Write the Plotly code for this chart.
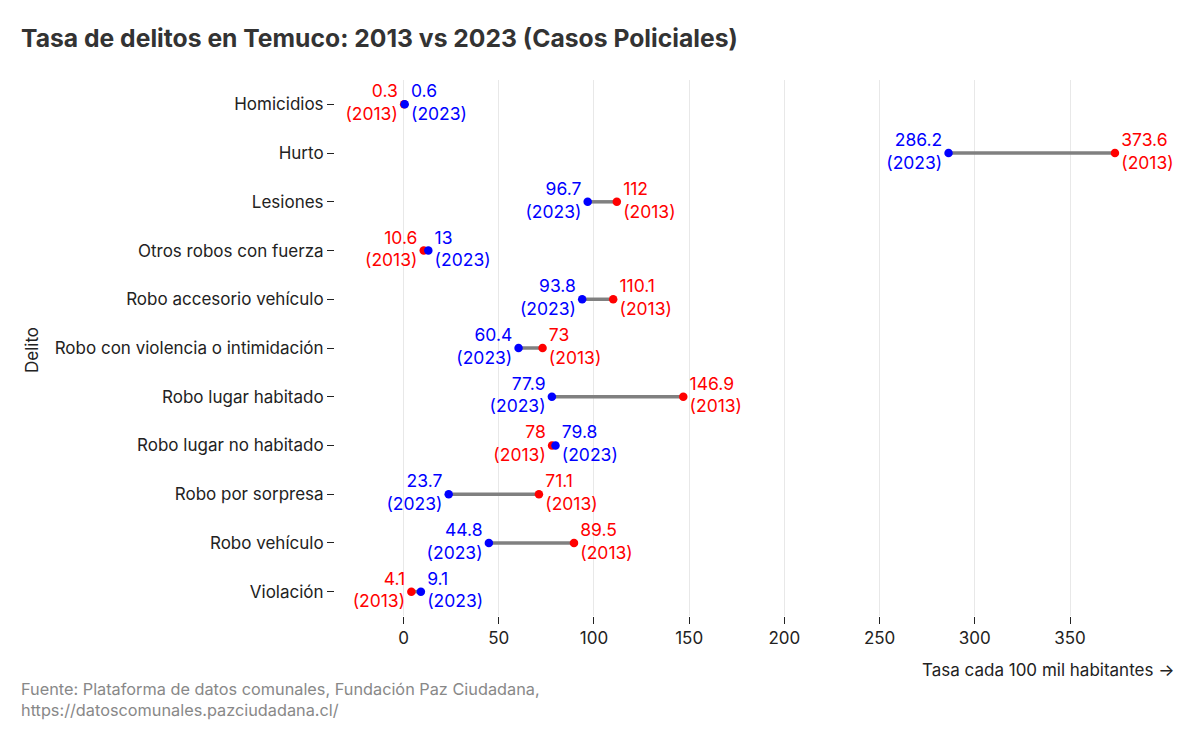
import plotly.graph_objects as go

# ===== DATA =====
delitos = [
    "Homicidios", "Hurto", "Lesiones", "Otros robos con fuerza",
    "Robo accesorio vehículo", "Robo con violencia o intimidación",
    "Robo lugar habitado", "Robo lugar no habitado", "Robo por sorpresa",
    "Robo vehículo", "Violación",
]
tasa_2013 = [0.3, 373.6, 112, 10.6, 110.1, 73, 146.9, 78, 71.1, 89.5, 4.1]
tasa_2023 = [0.6, 286.2, 96.7, 13, 93.8, 60.4, 77.9, 79.8, 23.7, 44.8, 9.1]
x_ticks = [0, 50, 100, 150, 200, 250, 300, 350]

RED = "#ff0000"
BLUE = "#0000ff"
FONT = "Inter, Roboto, sans-serif"


def fmt(v):
    return ("%g" % v)


fig = go.Figure()

# connecting segments
for d, a, b in zip(delitos, tasa_2013, tasa_2023):
    fig.add_trace(go.Scatter(
        x=[a, b], y=[d, d], mode="lines",
        line=dict(color="#808080", width=3.5),
        hoverinfo="skip", showlegend=False,
    ))

# text position: the lower value goes to the left, the higher to the right
pos_2013 = ["middle left" if a < b else "middle right" for a, b in zip(tasa_2013, tasa_2023)]
pos_2023 = ["middle right" if a < b else "middle left" for a, b in zip(tasa_2013, tasa_2023)]

fig.add_trace(go.Scatter(
    x=tasa_2013, y=delitos, mode="markers+text",
    marker=dict(color=RED, size=8.5),
    text=[fmt(v) + "<br>(2013)" for v in tasa_2013],
    textposition=pos_2013,
    textfont=dict(color=RED, size=17.5, family=FONT),
    cliponaxis=False, name="2013", showlegend=False,
))
fig.add_trace(go.Scatter(
    x=tasa_2023, y=delitos, mode="markers+text",
    marker=dict(color=BLUE, size=8.5),
    text=[fmt(v) + "<br>(2023)" for v in tasa_2023],
    textposition=pos_2023,
    textfont=dict(color=BLUE, size=17.5, family=FONT),
    cliponaxis=False, name="2023", showlegend=False,
))

# page body adds ~8px offset, so positions are 8px less than the target
OFF = 8
L, R, T, B = 335 - OFF, 1200 - (1150 - OFF), 80 - OFF, 741 - (616 - OFF)
W = 1200 - L - R
H = 741 - T - B
BOT = T + H

fig.update_layout(
    width=1200, height=741,
    margin=dict(l=L, r=R, t=T, b=B, autoexpand=False),
    plot_bgcolor="white", paper_bgcolor="white",
    font=dict(family=FONT, size=17, color="#222"),
    title=dict(
        text="<b>Tasa de delitos en Temuco: 2013 vs 2023 (Casos Policiales)</b>",
        x=13 / 1200, xanchor="left", y=1 - 30 / 741, yanchor="middle",
        font=dict(size=24.7, color="#333", family=FONT),
    ),
    xaxis=dict(
        range=[-36, 392], tickvals=x_ticks, showgrid=True, gridcolor="#e8e8e8",
        gridwidth=1, zeroline=False, showline=False, automargin=False,
        ticks="outside", ticklen=7, tickcolor="#222", tickfont=dict(size=17),
    ),
    yaxis=dict(
        categoryorder="array", categoryarray=delitos, range=[10.5, -0.5],
        showgrid=False, zeroline=False, showline=False, automargin=False,
        ticks="outside", ticklen=7, tickcolor="#222", tickfont=dict(size=17),
    ),
    annotations=[
        dict(text="Tasa cada 100 mil habitantes →", xref="paper", yref="paper",
             x=(1176 - OFF - L) / W, y=-(670 - OFF - BOT) / H, xanchor="right", yanchor="middle",
             showarrow=False, font=dict(size=17, color="#222")),
        dict(text="Delito", xref="paper", yref="paper",
             x=(32 - OFF - L) / W, y=(BOT - (350 - OFF)) / H, xanchor="center", yanchor="middle",
             textangle=-90, showarrow=False, font=dict(size=17, color="#222")),
        dict(text="Fuente: Plataforma de datos comunales, Fundación Paz Ciudadana,<br>"
                  "https://datoscomunales.pazciudadana.cl/",
             xref="paper", yref="paper", align="left",
             x=(19 - OFF - L) / W, y=-(699 - OFF - BOT) / H, xanchor="left", yanchor="middle",
             showarrow=False, font=dict(size=16.3, color="#888")),
    ],
)

fig.write_html("out.html")
